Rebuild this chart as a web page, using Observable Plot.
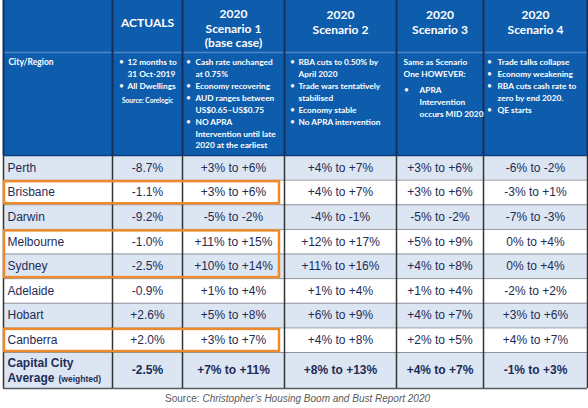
<!DOCTYPE html>
<html><head><meta charset="utf-8">
<script src="https://cdn.jsdelivr.net/npm/d3@7"></script>
<script src="https://cdn.jsdelivr.net/npm/@observablehq/plot@0.6"></script>
<style>html,body{margin:0;padding:0;background:#fff;} #chart svg{display:block}</style>
</head><body><div id="chart"></div>
<script>
// ---------------- data ----------------
const cities = ["Perth","Brisbane","Darwin","Melbourne","Sydney","Adelaide","Hobart","Canberra"];
const actuals = [-8.7,-1.1,-9.2,-1.0,-2.5,-0.9,2.6,2.0];
const scenario1Low  = [3,3,-5,11,10,1,5,3];
const scenario1High = [6,6,-2,15,14,4,8,7];
const scenario2Low  = [4,4,-4,12,11,1,6,4];
const scenario2High = [7,7,-1,17,16,4,9,8];
const scenario3Low  = [3,3,-5,5,4,1,4,2];
const scenario3High = [6,6,-2,9,8,4,7,5];
const scenario4Low  = [-6,-3,-7,0,0,-2,3,4];
const scenario4High = [-2,1,-3,4,4,2,6,7];
const averageLabelLines = ["Capital City","Average"];
const averageNote = "(weighted)";
const averageActual = -2.5;
const averageLow  = [7,8,4,-1];
const averageHigh = [11,13,7,3];
const highlightGroups = [["Brisbane"],["Melbourne","Sydney"],["Canberra"]];
const columnTitles = ["", "ACTUALS", "2020\nScenario 1\n(base case)", "2020\nScenario 2", "2020\nScenario 3", "2020\nScenario 4"];
const rowHeaderLabel = "City/Region";
const actualsNotes = [["12 months to","31 Oct-2019"],["All Dwellings"]];
const actualsSource = "Source: Corelogic";
const scenario1Notes = [["Cash rate unchanged","at 0.75%"],["Economy recovering"],["AUD ranges between","US$0.65\u2013US$0.75"],["NO APRA","Intervention until late","2020 at the earliest"]];
const scenario2Notes = [["RBA cuts to 0.50% by","April 2020"],["Trade wars tentatively","stabilised"],["Economy stable"],["No APRA intervention"]];
const scenario3Intro = ["Same as Scenario","One HOWEVER:"];
const scenario3Notes = [["APRA","Intervention","occurs MID 2020"]];
const scenario4Notes = [["Trade talks collapse"],["Economy weakening"],["RBA cuts cash rate to","zero by end 2020."],["QE starts"]];
const sourcePrefix = "Source:";
const sourceTitle = "Christopher\u2019s Housing Boom and Bust Report 2020";

// ---------------- formatting ----------------
const pct1 = v => (v > 0 ? "+" : "") + v.toFixed(1) + "%";
const pct0 = v => v === 0 ? "0%" : (v > 0 ? "+" : "") + v + "%";
const range = (lo, hi) => pct0(lo) + " to " + pct0(hi);

// ---------------- layout ----------------
const W = 588, H = 408;
const colEdges = [3, 112, 182, 284, 396, 483, 587];
const headTop = 0, headMid = 52, headBottom = 155;
const rowH = 24.625, avgH = 36;
const rowEdges = d3.range(cities.length + 1).map(i => headBottom + i * rowH);
const avgTop = rowEdges[rowEdges.length - 1], avgBottom = avgTop + avgH;
const colCenter = c => (colEdges[c] + colEdges[c + 1]) / 2;
const rowCenter = r => (rowEdges[r] + rowEdges[r + 1]) / 2;

const BLUE = "#0e5dac", LIGHT = "#dce6f3", TEXT = "#1f2b55", ORANGE = "#ee8a2c";

// body cells
const lows = [scenario1Low, scenario2Low, scenario3Low, scenario4Low];
const highs = [scenario1High, scenario2High, scenario3High, scenario4High];
const bodyRows = cities.map((city, i) => ({
  i, city,
  cells: [pct1(actuals[i]), ...lows.map((lo, k) => range(lo[i], highs[k][i]))]
}));
const bodyCells = bodyRows.flatMap(r => r.cells.map((t, k) => ({x: colCenter(k + 1), y: rowCenter(r.i), text: t})));
const avgCells = [pct1(averageActual), ...averageLow.map((lo, k) => range(lo, averageHigh[k]))]
  .map((t, k) => ({x: colCenter(k + 1), y: (avgTop + avgBottom) / 2, text: t}));

// row backgrounds
const rowBg = cities.map((c, i) => ({y1: rowEdges[i], y2: rowEdges[i + 1], fill: i % 2 === 0 ? LIGHT : "#ffffff"}));
rowBg.push({y1: avgTop, y2: avgBottom, fill: LIGHT});

// header notes
const lineStep = 11.9, firstLine = 62;
const bulletDx = [0, 9, 6, 8, 10, 6];
const textDx   = [0, 15, 13, 14, 23, 14];
const noteLines = [], bullets = [];
function addNotes(col, groups, startY) {
  let y = startY;
  for (const g of groups) {
    bullets.push({x: colEdges[col] + bulletDx[col], y});
    for (const line of g) { noteLines.push({x: colEdges[col] + textDx[col], y, text: line}); y += lineStep; }
  }
  return y;
}
let yA = addNotes(1, actualsNotes, firstLine);
addNotes(2, scenario1Notes, firstLine);
addNotes(3, scenario2Notes, firstLine);
let y3 = firstLine;
for (const line of scenario3Intro) { noteLines.push({x: colEdges[4] + 7, y: y3, text: line}); y3 += lineStep; }
addNotes(4, scenario3Notes, y3 + 4);
addNotes(5, scenario4Notes, firstLine);

// titles
const titles = columnTitles.map((t, c) => ({x: colCenter(c), y: t.split("\n").length === 3 ? 27.5 : 21.5, text: t})).filter(d => d.text);

// highlight boxes
const boxes = highlightGroups.map(g => {
  const a = cities.indexOf(g[0]), b = cities.indexOf(g[g.length - 1]);
  return {x1: colEdges[0] + 1, x2: colEdges[3] - 5, y1: rowEdges[a] + 1.5, y2: rowEdges[b + 1] - 1};
});

const bodyFont = "Liberation Sans, Arial, sans-serif";
const headFont = "Lato, Carlito, Calibri, sans-serif";

const chart = Plot.plot({
  width: W, height: H, margin: 0,
  x: {type: "linear", domain: [0, W], range: [0, W], axis: null},
  y: {type: "linear", domain: [0, H], range: [0, H], axis: null},
  style: {background: "#ffffff"},
  marks: [
    // header background
    Plot.rect([{x1: colEdges[0], x2: colEdges[6], y1: headTop, y2: headBottom}], {x1: "x1", x2: "x2", y1: "y1", y2: "y2", fill: BLUE}),
    // body rows
    Plot.rect(rowBg, {x1: colEdges[0], x2: colEdges[6], y1: "y1", y2: "y2", fill: d => d.fill}),
    // horizontal rules
    Plot.ruleY(rowEdges.slice(1), {x1: colEdges[0], x2: colEdges[6], stroke: "#8e959f", strokeWidth: 1}),
    Plot.ruleY([headMid], {x1: colEdges[0], x2: colEdges[6], stroke: "#4b88c9", strokeWidth: 1.5}),
    Plot.ruleY([headBottom], {x1: colEdges[0], x2: colEdges[6], stroke: "#0a3f7d", strokeWidth: 1.5}),
    Plot.ruleY([avgBottom], {x1: colEdges[0], x2: colEdges[6], stroke: "#555b63", strokeWidth: 1.5}),
    // vertical rules
    Plot.ruleX(colEdges, {y1: headTop, y2: headBottom, stroke: "#16305a", strokeWidth: 2}),
    Plot.ruleX(colEdges, {y1: headBottom, y2: avgBottom, stroke: "#333333", strokeWidth: 1.5}),
    // header titles
    Plot.text(titles, {x: "x", y: "y", text: "text", fill: "white", fontSize: 12, fontWeight: "bold", fontFamily: headFont, lineHeight: 1.2}),
    Plot.text([rowHeaderLabel], {x: colEdges[0] + 5, y: firstLine, text: d => d, textAnchor: "start", fill: "white", fontSize: 8.5, fontWeight: "bold", fontFamily: headFont}),
    Plot.text(noteLines, {x: "x", y: "y", text: "text", textAnchor: "start", fill: "white", fontSize: 8.3, fontWeight: "bold", fontFamily: headFont}),
    Plot.text(bullets, {x: "x", y: "y", text: () => "\u2022", fill: "white", fontSize: 8.5, fontFamily: headFont}),
    Plot.text([actualsSource], {x: colCenter(1), y: yA + 3, text: d => d, fill: "white", fontSize: 6.6, fontWeight: "bold", fontFamily: headFont}),
    // body
    Plot.text(bodyRows, {x: colEdges[0] + 4, y: d => rowCenter(d.i), text: "city", textAnchor: "start", fill: TEXT, fontSize: 12, fontFamily: bodyFont}),
    Plot.text(bodyCells, {x: "x", y: "y", text: "text", fill: TEXT, fontSize: 12, fontFamily: bodyFont}),
    // average row
    Plot.text(averageLabelLines, {x: colEdges[0] + 4, y: (d, i) => avgTop + 10.5 + i * 15.5, text: d => d, textAnchor: "start", fill: TEXT, fontSize: 12, fontWeight: "bold", fontFamily: bodyFont}),
    Plot.text([averageNote], {x: colEdges[0] + 55, y: avgTop + 27, text: d => d, textAnchor: "start", fill: TEXT, fontSize: 8.5, fontWeight: "bold", fontFamily: bodyFont}),
    Plot.text(avgCells, {x: "x", y: "y", text: "text", fill: TEXT, fontSize: 12, fontWeight: "bold", fontFamily: bodyFont}),
    // highlight boxes
    Plot.rect(boxes, {x1: "x1", x2: "x2", y1: "y1", y2: "y2", fill: "none", stroke: ORANGE, strokeWidth: 2.5}),
    // source
    Plot.text([sourcePrefix], {x: 199, y: avgBottom + 10, text: d => d, textAnchor: "end", fill: "#5a5a5a", fontSize: 10, fontFamily: bodyFont}),
    Plot.text([sourceTitle], {x: 202, y: avgBottom + 10, text: d => d, textAnchor: "start", fill: "#5a5a5a", fontSize: 10, fontStyle: "italic", fontFamily: bodyFont})
  ]
});
document.getElementById("chart").append(chart);
</script>
</body></html>
